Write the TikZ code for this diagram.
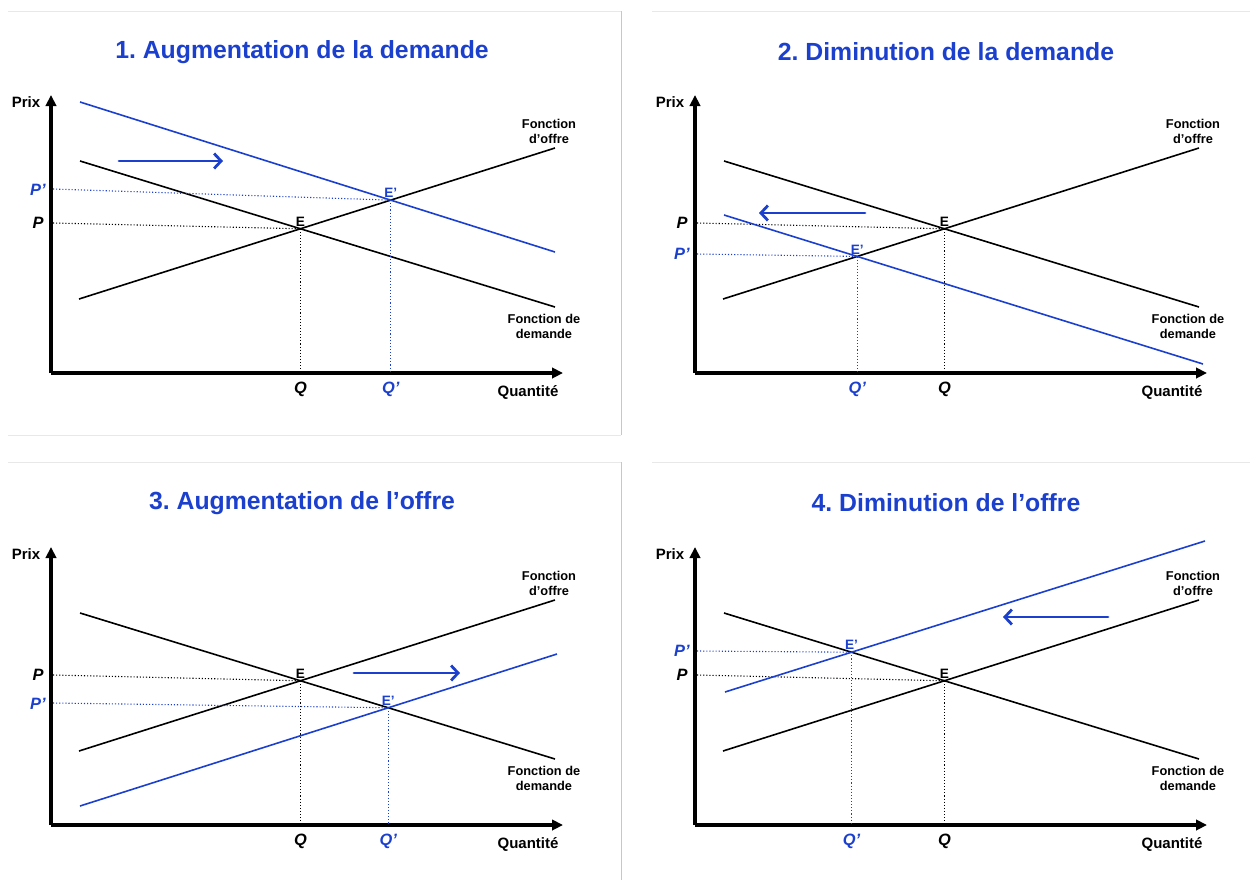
\documentclass[tikz,border=0pt]{standalone}
\usepackage{fontspec}
\setmainfont{Liberation Sans}
\usetikzlibrary{arrows.meta}
\definecolor{bleu}{RGB}{28,64,206}
\definecolor{cadre}{RGB}{232,232,232}
\frenchspacing

% axes, offer and demand, point E (same in all four graphs)
\newcommand{\marche}{
   \coordinate (O) at (51,373);
   \coordinate (bas) at (0,389);
   \coordinate (s1) at (79,299);
   \coordinate (s2) at (555,148);
   \coordinate (d1) at (80,161);
   \coordinate (d2) at (555,307);
   \coordinate (E) at (intersection of s1--s2 and d1--d2);
   \coordinate (pP) at (53,223);
   \draw[pointille] (pP) -- (E);
   \draw[pointille] (E) -- (E |- O);
   \draw[courbe] (s1) -- (s2);
   \draw[courbe] (d1) -- (d2);
   \draw[axe] (O) -- (51,95);
   \draw[axe] (O) -- (563,373);
   \node[axlbl] (prix) at (26,102) {Prix};
   \node[axlbl] (qte) at (528,392) {Quantité};
   \node[lbl] (fo) at (549,131) {Fonction\\d’offre};
   \node[lbl] (fd) at (544,326) {Fonction de\\demande};
   \node[ptlbl, above=1pt] (lE) at (E) {E};
   \node[pq, anchor=east] (P) at (44,223) {P};
   \node[pq] (Q) at (E |- bas) {Q};
}

\begin{document}
\begin{tikzpicture}[x=0.5pt,y=-0.5pt,
   titre/.style={text=bleu, font=\bfseries\fontsize{12.4}{14}\selectfont},
   axe/.style={line width=1.6pt, -{Triangle[length=5.5pt,width=5.2pt]}},
   courbe/.style={line width=0.8pt},
   pointille/.style={densely dotted, line width=0.55pt},
   decal/.style={bleu, line width=1.4pt, line cap=round, -{Straight Barb[length=3.5pt,width=7.5pt]}},
   axlbl/.style={font=\bfseries\fontsize{7.5}{9}\selectfont, inner sep=0pt},
   lbl/.style={font=\bfseries\fontsize{6.4}{7.5}\selectfont, align=center, inner sep=0pt},
   ptlbl/.style={font=\bfseries\fontsize{6.8}{8}\selectfont, inner sep=0pt},
   pq/.style={font=\bfseries\itshape\fontsize{8.2}{9}\selectfont, inner sep=0pt}]
   \useasboundingbox (0,0) rectangle (1250,880);

   % slide borders
   \draw[cadre] (8,11) -- (621,11);
   \draw[cadre] (652,11) -- (1250,11);
   \draw[cadre] (8,435) -- (621,435);
   \draw[cadre] (8,462) -- (621,462);
   \draw[cadre] (652,462) -- (1250,462);
   \draw[black!22] (621,11) -- (621,435);
   \draw[black!22] (621,462) -- (621,880);

   % 1. demand goes up
   \begin{scope}
      \marche
      \node[titre] (t1) at (302,52) {1. Augmentation de la demande};
      \coordinate (b1) at (80,102);
      \coordinate (b2) at (555,252);
      \coordinate (Ep) at (intersection of s1--s2 and b1--b2);
      \coordinate (pPp) at (53,189);
      \draw[pointille, bleu] (pPp) -- (Ep);
      \draw[pointille, bleu] (Ep) -- (Ep |- O);
      \draw[courbe, bleu] (b1) -- (b2);
      \node[ptlbl, bleu, above=1pt] (lEp) at (Ep) {E’};
      \node[pq, bleu, anchor=east] (Pp) at (46,190) {P’};
      \node[pq, bleu] (Qp) at (Ep |- bas) {Q’};
      \coordinate (f1) at (119,161);
      \coordinate (f2) at (223,161);
      \draw[decal] (f1) -- (f2);
   \end{scope}

   % 2. demand goes down
   \begin{scope}[shift={(644,0)}]
      \marche
      \node[titre] (t2) at (302,52) {2. Diminution de la demande};
      \coordinate (b1) at (80,215);
      \coordinate (b2) at (559,364);
      \coordinate (Ep) at (intersection of s1--s2 and b1--b2);
      \coordinate (pPp) at (53,254);
      \draw[pointille, bleu] (pPp) -- (Ep);
      \draw[pointille, bleu] (Ep) -- (Ep |- O);
      \draw[courbe, bleu] (b1) -- (b2);
      \node[ptlbl, bleu, above=1pt] (lEp) at (Ep) {E’};
      \node[pq, bleu, anchor=east] (Pp) at (46,254) {P’};
      \node[pq, bleu] (Qp) at (Ep |- bas) {Q’};
      \coordinate (f1) at (221,213);
      \coordinate (f2) at (115,213);
      \draw[decal] (f1) -- (f2);
   \end{scope}

   % 3. offer goes up
   \begin{scope}[shift={(0,452)}]
      \marche
      \node[titre] (t3) at (302,51) {3. Augmentation de l’offre};
      \coordinate (b1) at (80,354);
      \coordinate (b2) at (557,202);
      \coordinate (Ep) at (intersection of d1--d2 and b1--b2);
      \coordinate (pPp) at (53,251);
      \draw[pointille, bleu] (pPp) -- (Ep);
      \draw[pointille, bleu] (Ep) -- (Ep |- O);
      \draw[courbe, bleu] (b1) -- (b2);
      \node[ptlbl, bleu, above=1pt] (lEp) at (Ep) {E’};
      \node[pq, bleu, anchor=east] (Pp) at (46,252) {P’};
      \node[pq, bleu] (Qp) at (Ep |- bas) {Q’};
      \coordinate (f1) at (354,221);
      \coordinate (f2) at (460,221);
      \draw[decal] (f1) -- (f2);
   \end{scope}

   % 4. offer goes down
   \begin{scope}[shift={(644,452)}]
      \marche
      \node[titre] (t4) at (302,51) {4. Diminution de l’offre};
      \coordinate (b1) at (81,240);
      \coordinate (b2) at (561,89);
      \coordinate (Ep) at (intersection of d1--d2 and b1--b2);
      \coordinate (pPp) at (53,199);
      \draw[pointille, bleu] (pPp) -- (Ep);
      \draw[pointille, bleu] (Ep) -- (Ep |- O);
      \draw[courbe, bleu] (b1) -- (b2);
      \node[ptlbl, bleu, above=1pt] (lEp) at (Ep) {E’};
      \node[pq, bleu, anchor=east] (Pp) at (46,199) {P’};
      \node[pq, bleu] (Qp) at (Ep |- bas) {Q’};
      \coordinate (f1) at (464,165);
      \coordinate (f2) at (359,165);
      \draw[decal] (f1) -- (f2);
   \end{scope}
\end{tikzpicture}
\end{document}
